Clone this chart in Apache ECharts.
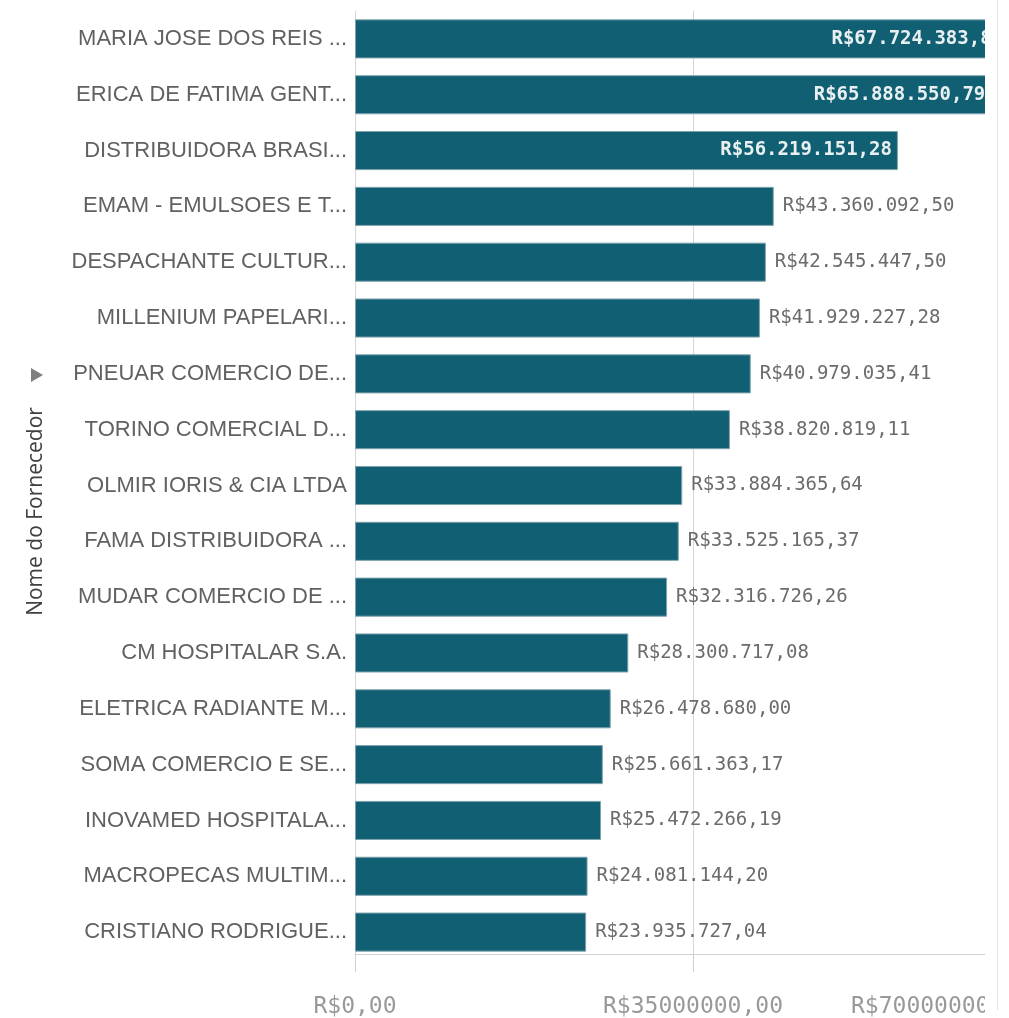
<!DOCTYPE html>
<html>
<head>
<meta charset="utf-8">
<script src="https://cdn.jsdelivr.net/npm/echarts@6/dist/echarts.min.js"></script>
<style>
  html, body { margin: 0; padding: 0; background: #fff; }
  #chart { position: absolute; left: 0; top: 0; width: 985px; height: 1018px; }
  #edge { position: absolute; left: 997px; top: 0; width: 1px; height: 1010px; background: #e6e6e6; }
</style>
</head>
<body>
<div id="chart"></div>
<div id="edge"></div>
<script>
const categories = [
  "MARIA JOSE DOS REIS ...",
  "ERICA DE FATIMA GENT...",
  "DISTRIBUIDORA BRASI...",
  "EMAM - EMULSOES E T...",
  "DESPACHANTE CULTUR...",
  "MILLENIUM PAPELARI...",
  "PNEUAR COMERCIO DE...",
  "TORINO COMERCIAL D...",
  "OLMIR IORIS & CIA LTDA",
  "FAMA DISTRIBUIDORA ...",
  "MUDAR COMERCIO DE ...",
  "CM HOSPITALAR S.A.",
  "ELETRICA RADIANTE M...",
  "SOMA COMERCIO E SE...",
  "INOVAMED HOSPITALA...",
  "MACROPECAS MULTIM...",
  "CRISTIANO RODRIGUE..."
];
const values = [
  67724383.84, 65888550.79, 56219151.28, 43360092.50, 42545447.50,
  41929227.28, 40979035.41, 38820819.11, 33884365.64, 33525165.37,
  32316726.26, 28300717.08, 26478680.00, 25661363.17, 25472266.19,
  24081144.20, 23935727.04
];
const axisTitle = "Nome do Fornecedor";
const xTicks = [0, 35000000, 70000000];

function brl(v) {
  const parts = v.toFixed(2).split('.');
  const intPart = parts[0].replace(/\B(?=(\d{3})+(?!\d))/g, '.');
  return 'R$' + intPart + ',' + parts[1];
}

const monoFont = "'DejaVu Sans Mono', 'Liberation Mono', monospace";
const insideLabel = { position: 'insideRight', distance: 6, color: '#e9f0f2', fontWeight: 'bold' };
const outsideLabel = { position: 'right', distance: 9, color: '#6b6b6b' };

const seriesData = values.map(v => ({
  value: v,
  label: v > 50000000 ? insideLabel : outsideLabel
}));

const chart = echarts.init(document.getElementById('chart'), null, { renderer: 'canvas' });
chart.setOption({
  animation: false,
  backgroundColor: '#ffffff',
  grid: { left: 355, top: 11, width: 676, bottom: 58, containLabel: false, outerBoundsMode: 'none' },
  xAxis: {
    type: 'value',
    min: xTicks[0],
    max: xTicks[xTicks.length - 1],
    interval: xTicks[1] - xTicks[0],
    offset: -6,
    axisLine: { show: true, lineStyle: { color: '#d0d0d0', width: 1 } },
    axisTick: { show: true, length: 18, lineStyle: { color: '#d0d0d0' } },
    splitLine: { show: true, lineStyle: { color: '#d6d6d6', width: 1 } },
    axisLabel: {
      margin: 42,
      color: '#999999',
      fontFamily: monoFont,
      fontSize: 23,
      alignMaxLabel: 'right',
      formatter: v => 'R$' + v + ',00'
    }
  },
  yAxis: {
    type: 'category',
    data: categories,
    inverse: true,
    name: axisTitle,
    nameLocation: 'middle',
    nameRotate: 90,
    nameGap: 308,
    nameTextStyle: {
      color: '#404040', fontSize: 21,
      fontFamily: "'Open Sans', 'Noto Sans', sans-serif",
      padding: [0, 52, 0, 0]
    },
    axisLine: { show: true, lineStyle: { color: '#d6d6d6', width: 1 } },
    axisTick: { show: false },
    splitLine: { show: false },
    axisLabel: {
      margin: 8,
      color: '#616161',
      fontSize: 22,
      fontFamily: "'Liberation Sans', Arial, sans-serif"
    }
  },
  series: [{
    type: 'bar',
    data: seriesData,
    barCategoryGap: '30%',
    itemStyle: { color: '#115f73', borderColor: '#7fa3ad', borderWidth: 1 },
    label: {
      show: true,
      fontFamily: monoFont,
      fontSize: 19,
      formatter: p => brl(p.value)
    }
  }],
  graphic: [{
    type: 'polygon',
    shape: { points: [[31, 368], [31, 382], [43, 375]] },
    style: { fill: '#7f7f7f' }
  }]
});
</script>
</body>
</html>
